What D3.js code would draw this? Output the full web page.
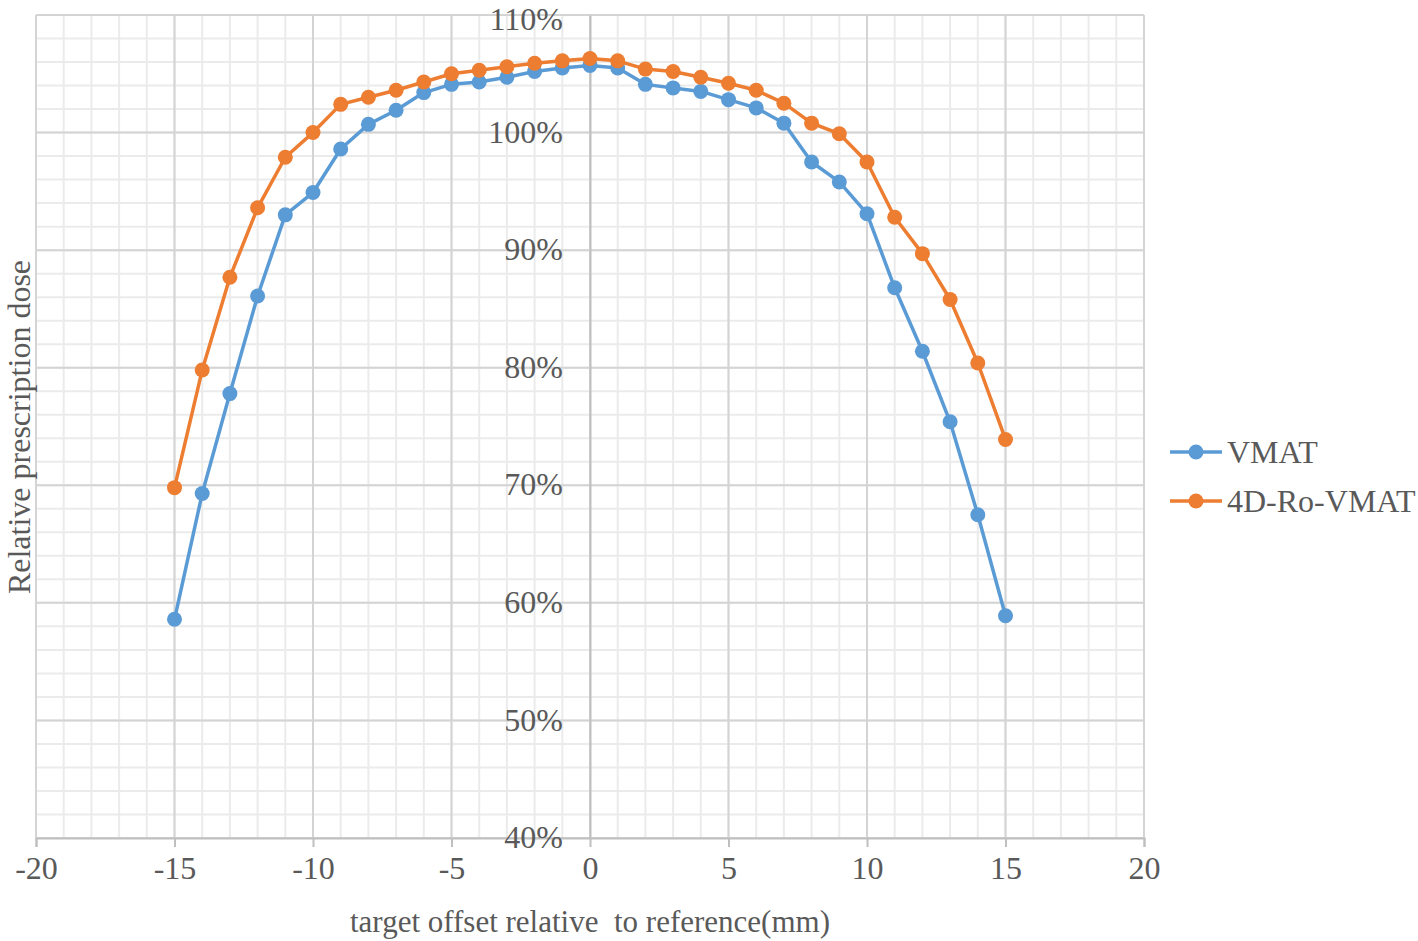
<!DOCTYPE html>
<html><head><meta charset="utf-8">
<script src="https://cdn.jsdelivr.net/npm/d3@7"></script>
<style>
html,body{margin:0;padding:0;background:#fff;}
text{font-family:"Liberation Serif","Times New Roman",serif;fill:#595959;}
</style></head>
<body>
<svg id="chart" width="1418" height="941"></svg>
<script>
const offsets = [-15,-14,-13,-12,-11,-10,-9,-8,-7,-6,-5,-4,-3,-2,-1,0,1,2,3,4,5,6,7,8,9,10,11,12,13,14,15];
const vmat = [58.6,69.3,77.8,86.1,93.0,94.9,98.6,100.7,101.9,103.4,104.1,104.3,104.7,105.2,105.5,105.7,105.5,104.1,103.8,103.5,102.8,102.1,100.8,97.5,95.8,93.1,86.8,81.4,75.4,67.5,58.9];
const ro4d = [69.8,79.8,87.7,93.6,97.9,100.0,102.4,103.0,103.6,104.3,105.0,105.3,105.6,105.9,106.1,106.3,106.1,105.4,105.2,104.7,104.2,103.6,102.5,100.8,99.9,97.5,92.8,89.7,85.8,80.4,73.9];
const seriesNames = ["VMAT","4D-Ro-VMAT"];
const seriesColors = ["#5b9bd5","#ed7d31"];
const xTicks = [-20,-15,-10,-5,0,5,10,15,20];
const yTicks = [40,50,60,70,80,90,100,110];
const xTitle = "target offset relative  to reference(mm)";
const yTitle = "Relative prescription dose";

const svg = d3.select("#chart");
const L = 36, R = 1144, T = 15, B = 838;
const x = d3.scaleLinear().domain([-20,20]).range([L,R]);
const y = d3.scaleLinear().domain([40,110]).range([B,T]);

const g = svg.append("g");
// minor grid
g.selectAll(".vminor").data(d3.range(-20,21,1)).join("line")
  .attr("x1",d=>x(d)).attr("x2",d=>x(d)).attr("y1",T).attr("y2",B)
  .attr("stroke","#ebebeb").attr("stroke-width",2);
g.selectAll(".hminor").data(d3.range(40,111,2)).join("line")
  .attr("x1",L).attr("x2",R).attr("y1",d=>y(d)).attr("y2",d=>y(d))
  .attr("stroke","#ebebeb").attr("stroke-width",2);
// major grid
g.selectAll(".vmajor").data(xTicks).join("line")
  .attr("x1",d=>x(d)).attr("x2",d=>x(d)).attr("y1",T).attr("y2",B)
  .attr("stroke","#d4d4d4").attr("stroke-width",2);
g.selectAll(".hmajor").data(yTicks).join("line")
  .attr("x1",L).attr("x2",R).attr("y1",d=>y(d)).attr("y2",d=>y(d))
  .attr("stroke","#d4d4d4").attr("stroke-width",2);

// x axis
const xAxis = d3.axisBottom(x).tickValues(xTicks).tickSize(9).tickPadding(9).tickFormat(d=>String(d));
const xg = svg.append("g").attr("transform",`translate(0,${B})`).call(xAxis);
xg.select(".domain").attr("stroke","#bfbfbf").attr("stroke-width",2);
xg.selectAll(".tick line").attr("stroke","#bfbfbf").attr("stroke-width",2);
xg.selectAll("text").style("font-size","32px").attr("fill","#595959").style("font-family","'Liberation Serif',serif");

// y axis at x=0
const yAxis = d3.axisLeft(y).tickValues(yTicks).tickSize(0).tickPadding(27).tickFormat(d=>d+"%");
const yg = svg.append("g").attr("transform",`translate(${x(0)},0)`).call(yAxis);
yg.select(".domain").attr("stroke","#bfbfbf").attr("stroke-width",2);
yg.selectAll("text").style("font-size","32px").attr("fill","#595959").style("font-family","'Liberation Serif',serif")
  .attr("dy",d=>d===110?"0.45em":"0.3em");

// series
const line = d3.line().x((d,i)=>x(offsets[i])).y(d=>y(d));
[vmat, ro4d].forEach((vals,si)=>{
  svg.append("path").datum(vals).attr("d",line).attr("fill","none")
    .attr("stroke",seriesColors[si]).attr("stroke-width",3.5).attr("stroke-linejoin","round");
  svg.append("g").selectAll("circle").data(vals).join("circle")
    .attr("cx",(d,i)=>x(offsets[i])).attr("cy",d=>y(d)).attr("r",7.5)
    .attr("fill",seriesColors[si]);
});

// titles
svg.append("text").attr("x",590).attr("y",932).attr("text-anchor","middle")
  .style("font-size","31px").style("white-space","pre").text(xTitle);
svg.append("text").attr("transform","translate(30,427) rotate(-90)").attr("text-anchor","middle")
  .style("font-size","32px").text(yTitle);

// legend
const lg = svg.append("g");
seriesNames.forEach((n,i)=>{
  const yy = 452 + i*49;
  lg.append("line").attr("x1",1170).attr("x2",1222).attr("y1",yy).attr("y2",yy)
    .attr("stroke",seriesColors[i]).attr("stroke-width",3.5);
  lg.append("circle").attr("cx",1196).attr("cy",yy).attr("r",7.5).attr("fill",seriesColors[i]);
  lg.append("text").attr("x",1227).attr("y",yy).attr("dy","0.35em").style("font-size","32px").text(n);
});
</script>
</body></html>
